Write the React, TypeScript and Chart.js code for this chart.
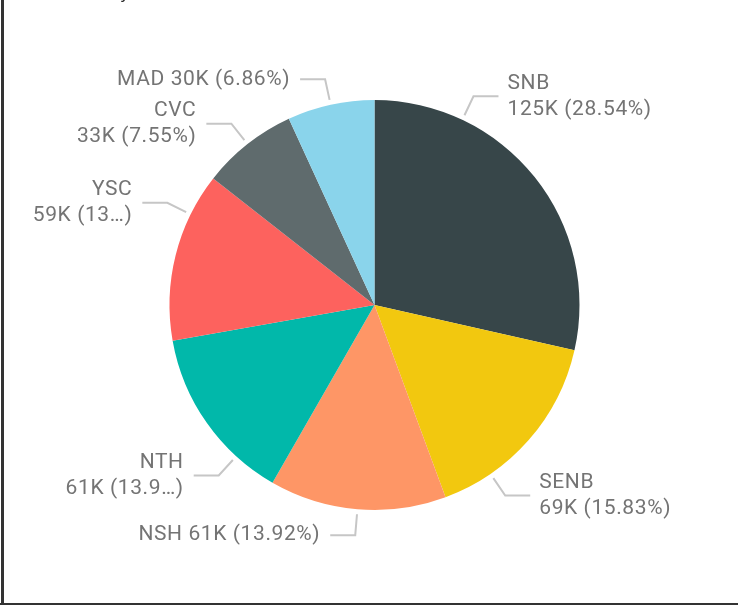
import React, { useEffect, useRef } from "react";
import { Chart, ArcElement, PieController } from "chart.js";

Chart.register(ArcElement, PieController);

// ---- data ----
const categories = ["SNB", "SENB", "NSH", "NTH", "YSC", "CVC", "MAD"];
const values = [125000, 69330, 60970, 61010, 58560, 33070, 30050];
const colors = ["#374649", "#F2C80F", "#FE9666", "#01B8AA", "#FD625E", "#5F6B6D", "#8AD4EB"];

// ---- label layout config ----
const labelAngleShift = [-26, 14.3, 0, -12.5, 12.2, 0, 0]; // degrees, leader anchor shift from slice middle
const labelSingleLine = [false, false, true, false, false, false, true];
const pctCharsShown = [0, 0, 0, 4, 2, 0, 0]; // 0 = full percent text, otherwise truncated with an ellipsis

const FONT = "21px Roboto";
const LETTER_SPACING = "0.6px";
const TEXT_COLOR = "#747474";
const LEADER_COLOR = "#c6c6c6";

function fmtK(v: number) {
  return Math.round(v / 1000) + "K";
}

const leaderLabels = {
  id: "leaderLabels",
  afterDatasetsDraw(chart: any) {
    const ctx: any = chart.ctx;
    const meta = chart.getDatasetMeta(0);
    const total = values.reduce((a, b) => a + b, 0);
    ctx.save();
    ctx.font = FONT;
    ctx.letterSpacing = LETTER_SPACING;
    meta.data.forEach((arc: any, i: number) => {
      const p = arc.getProps(["x", "y", "startAngle", "endAngle", "outerRadius"], true);
      const a = (p.startAngle + p.endAngle) / 2 + (labelAngleShift[i] * Math.PI) / 180;
      const r0 = p.outerRadius + 5;
      const r1 = p.outerRadius + 26;
      const sx = p.x + r0 * Math.cos(a);
      const sy = p.y + r0 * Math.sin(a);
      const ex = p.x + r1 * Math.cos(a);
      const ey = p.y + r1 * Math.sin(a);
      const right = Math.cos(a) >= 0;
      const hx = ex + (right ? 25 : -25);
      ctx.strokeStyle = LEADER_COLOR;
      ctx.lineWidth = 2;
      ctx.lineJoin = "miter";
      ctx.beginPath();
      ctx.moveTo(sx, sy);
      ctx.lineTo(ex, ey);
      ctx.lineTo(hx, ey);
      ctx.stroke();

      const pct = ((values[i] / total) * 100).toFixed(2);
      let pctText = pct + "%)";
      if (pctCharsShown[i] > 0) pctText = pct.slice(0, pctCharsShown[i]) + "\u2026)";
      const valText = fmtK(values[i]) + " (" + pctText;

      const tx = hx + (right ? 9 : -10);
      ctx.fillStyle = TEXT_COLOR;
      ctx.textAlign = right ? "left" : "right";
      ctx.textBaseline = "middle";
      if (labelSingleLine[i]) {
        ctx.fillText(categories[i] + " " + valText, tx, ey);
      } else {
        ctx.fillText(categories[i], tx, ey - 13);
        ctx.fillText(valText, tx, ey + 13);
      }
    });
    ctx.restore();
  },
};

export default function App() {
  const ref = useRef<HTMLCanvasElement | null>(null);
  useEffect(() => {
    document.body.style.margin = "0";
    if (!ref.current) return;
    const chart = new Chart(ref.current, {
      type: "pie",
      data: {
        labels: categories,
        datasets: [
          {
            data: values,
            backgroundColor: colors,
            borderWidth: 0,
          },
        ],
      },
      options: {
        responsive: false,
        animation: false,
        layout: { padding: { left: 169.5, right: 158.5, top: 100, bottom: 95 } },
        plugins: {
          legend: { display: false },
          tooltip: { enabled: false },
        },
      },
      plugins: [leaderLabels],
    });
    return () => chart.destroy();
  }, []);

  return (
    <div style={{ position: "relative", width: 738, height: 605, overflow: "hidden", background: "#fff" }}>
      <canvas ref={ref} width={738} height={605} style={{ position: "absolute", left: 0, top: 0 }} />
      <span
        style={{
          position: "absolute",
          left: 120,
          top: -14,
          fontFamily: "DejaVu Sans",
          fontSize: 16,
          lineHeight: "16px",
          color: "#222",
        }}
      >
        y
      </span>
      <div style={{ position: "absolute", left: 1, top: 0, width: 3, height: 605, background: "#333" }} />
      <div style={{ position: "absolute", left: 0, top: 603, width: 738, height: 2, background: "#333" }} />
    </div>
  );
}
